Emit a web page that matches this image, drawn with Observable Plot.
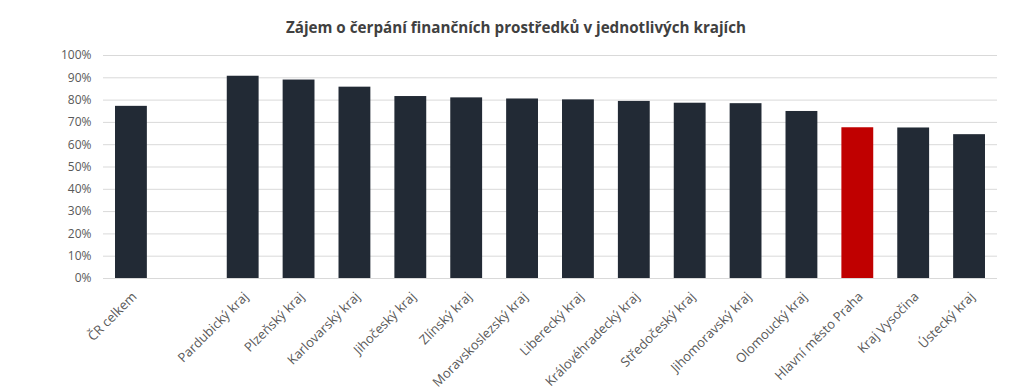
<!DOCTYPE html>
<html>
<head>
<meta charset="utf-8">
<script src="https://cdn.jsdelivr.net/npm/d3@7"></script>
<script src="https://cdn.jsdelivr.net/npm/@observablehq/plot@0.6"></script>
<style>
  html, body { margin: 0; padding: 0; background: #ffffff; }
  #title { height: 45px; line-height: 54px; text-align: center; font-family: "Open Sans", sans-serif; font-weight: bold; font-size: 15.2px; color: #404040; width: 1024px; box-sizing: border-box; padding-left: 8px; }
  #chart svg { display: block; }
</style>
</head>
<body>
<div id="title">Zájem o čerpání finančních prostředků v jednotlivých krajích</div>
<div id="chart"></div>
<script>
const categories = ["ČR celkem", " ", "Pardubický kraj", "Plzeňský kraj", "Karlovarský kraj", "Jihočeský kraj", "Zlínský kraj", "Moravskoslezský kraj", "Liberecký kraj", "Královéhradecký kraj", "Středočeský kraj", "Jihomoravský kraj", "Olomoucký kraj", "Hlavní město Praha", "Kraj Vysočina", "Ústecký kraj"];
const values = [77.2, null, 90.7, 89.0, 85.8, 81.6, 81.0, 80.5, 80.1, 79.4, 78.6, 78.4, 74.9, 67.6, 67.5, 64.5];
const highlighted = ["Hlavní město Praha"];
const yTicks = [0, 10, 20, 30, 40, 50, 60, 70, 80, 90, 100];

const data = categories.map((c, i) => ({category: c, value: values[i], hi: highlighted.includes(c)})).filter(d => d.value != null);

const chart = Plot.plot({
  width: 1024,
  height: 345,
  marginLeft: 103,
  marginRight: 27,
  marginTop: 10,
  marginBottom: 112,
  style: {fontFamily: "Open Sans, sans-serif", fontSize: "12px", color: "#595959", background: "transparent"},
  x: {domain: categories, paddingInner: 0.43, paddingOuter: 0.215, round: false, label: null},
  y: {domain: [0, 100], label: null},
  marks: [
    Plot.gridY(yTicks, {stroke: "#d9d9d9", strokeOpacity: 1, strokeWidth: 1}),
    Plot.barY(data, {x: "category", y: "value", fill: d => d.hi ? "#c00000" : "#222a35"}),
    Plot.axisY(yTicks, {tickSize: 0, tickPadding: 12, tickFormat: d => d + "%", fill: "#595959", fontSize: 12}),
    Plot.axisX({tickSize: 0, tickPadding: 16, dx: 3, tickRotate: -45, tickFormat: d => d.trim(), fill: "#595959", fontSize: 13})
  ]
});
document.getElementById("chart").appendChild(chart);
</script>
</body>
</html>
